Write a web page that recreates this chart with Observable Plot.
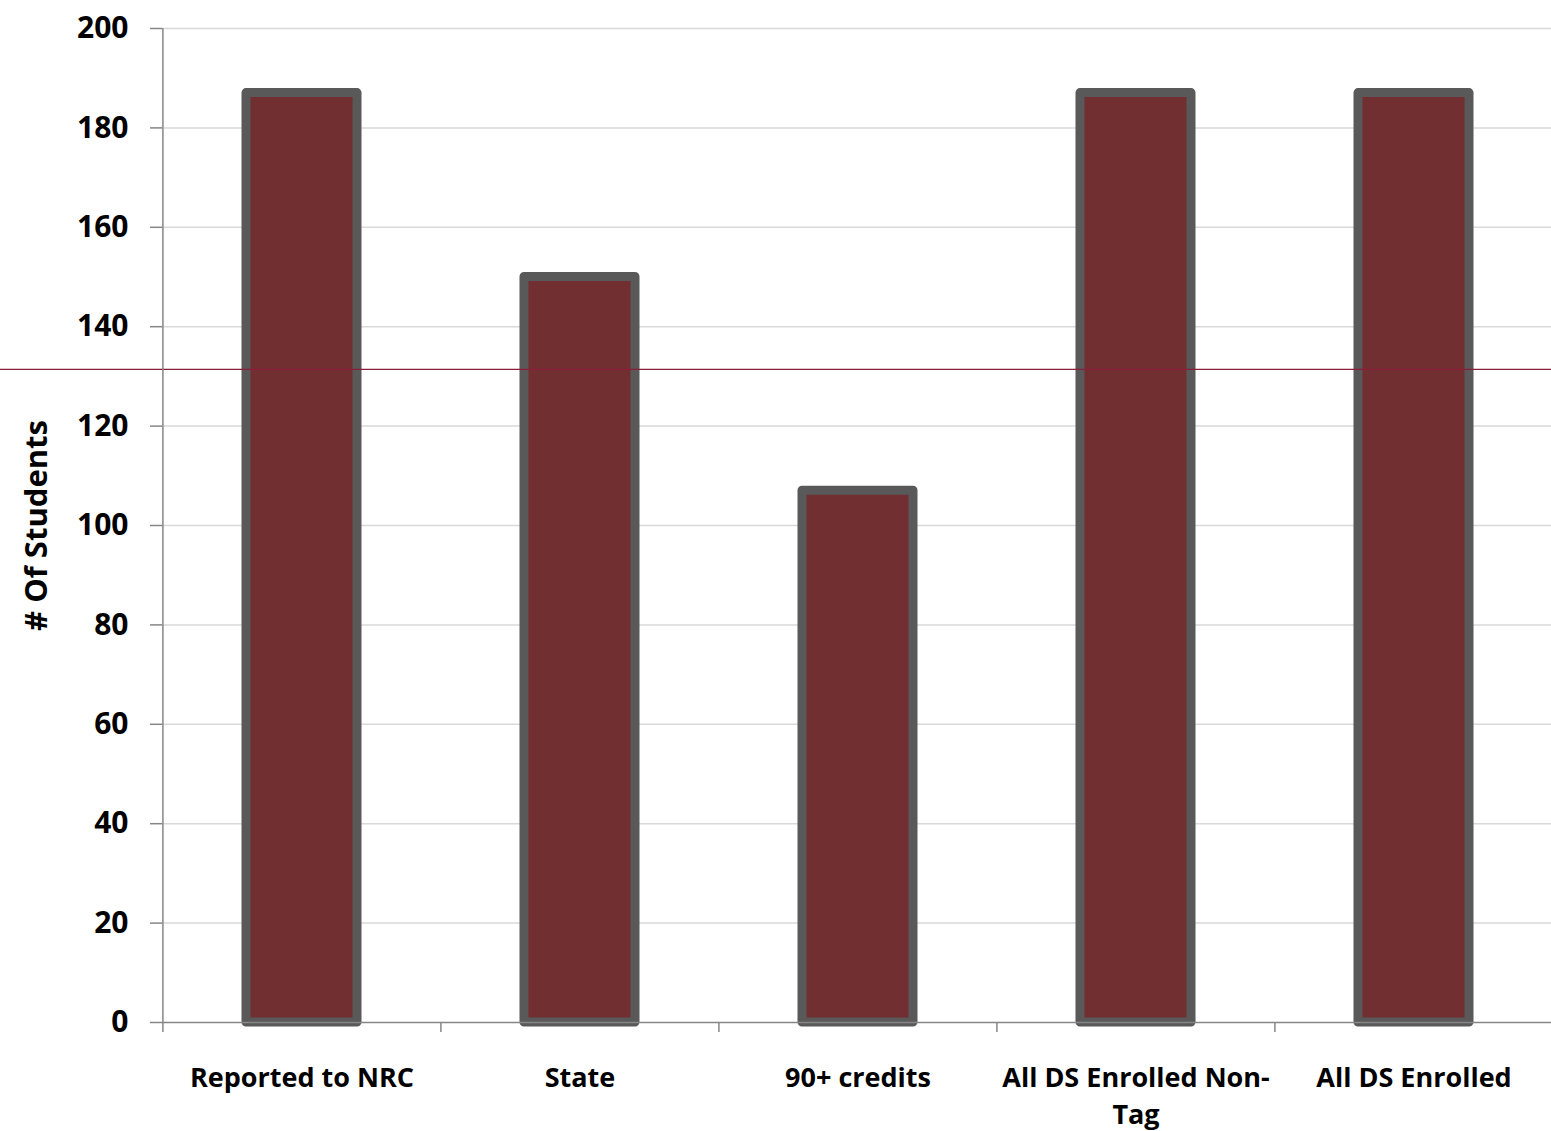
<!DOCTYPE html>
<html>
<head>
<meta charset="utf-8">
<script src="https://cdn.jsdelivr.net/npm/d3@7"></script>
<script src="https://cdn.jsdelivr.net/npm/@observablehq/plot@0.6"></script>
<style>
  body { margin: 0; background: #fff; }
  #chart svg { display: block; }
</style>
</head>
<body>
<div id="chart"></div>
<script>
const categories = ["Reported to NRC", "State", "90+ credits", "All DS Enrolled Non-Tag", "All DS Enrolled"];
const tickLabels = ["Reported to NRC", "State", "90+ credits", "All DS Enrolled Non-\nTag", "All DS Enrolled"];
const students = [187, 150, 107, 187, 187];
const yTicks = [0, 20, 40, 60, 80, 100, 120, 140, 160, 180, 200];
const refLine = [131.4];
const yTitle = "# Of Students";

const data = categories.map((c, i) => ({category: c, value: students[i]}));
const labelOf = new Map(categories.map((c, i) => [c, tickLabels[i]]));

const W = 1551, H = 1131, ML = 162, MR = -2, MT = 28, MB = 109;
const step = (W - ML - MR) / categories.length;

const fullWidthRule = (index, scales, values, dimensions, context, next) => {
  const g = next(index, scales, values, dimensions, context);
  g.querySelectorAll("line").forEach(l => { l.setAttribute("x1", 0); l.setAttribute("x2", dimensions.width); });
  return g;
};

const chart = Plot.plot({
  width: W, height: H,
  marginLeft: ML, marginRight: MR, marginTop: MT, marginBottom: MB,
  style: {fontFamily: "'Open Sans', Lato, sans-serif", fontWeight: "bold", color: "#000", background: "#fff"},
  x: {domain: categories, paddingInner: 0.6, paddingOuter: 0.3, align: 0.5},
  y: {domain: [0, 200], ticks: yTicks},
  marks: [
    Plot.gridY(yTicks.filter(d => d > 0), {stroke: "#d9d9d9", strokeOpacity: 1, strokeWidth: 1.5}),
    Plot.barY(data, {x: "category", y: "value", fill: "#722f32", stroke: "#595959", strokeWidth: 9, strokeLinejoin: "round"}),
    Plot.ruleY(refLine, {stroke: "#8a1f3c", strokeWidth: 1.2, render: fullWidthRule}),
    Plot.axisY(yTicks, {tickSize: 12, tickPadding: 22, fontSize: 30, stroke: "#868686", strokeWidth: 1.5, label: null}),
    Plot.ruleX([categories[0]], {dx: -step / 2, stroke: "#868686", strokeWidth: 1.5}),
    Plot.ruleY([0], {stroke: "#868686", strokeWidth: 1.5}),
    Plot.axisX(categories, {tickSize: 10, tickFormat: () => "", dx: -step / 2, stroke: "#868686", strokeWidth: 1.5, label: null}),
    Plot.axisX(categories, {tickSize: 0, tickPadding: 38, fontSize: 27, lineHeight: 1.37, tickFormat: d => labelOf.get(d), label: null}),
    Plot.text([yTitle], {frameAnchor: "left", rotate: -90, dx: -125, textAnchor: "middle", fontSize: 31, fontWeight: "bold", fill: "#000"})
  ]
});
document.getElementById("chart").appendChild(chart);
</script>
</body>
</html>
